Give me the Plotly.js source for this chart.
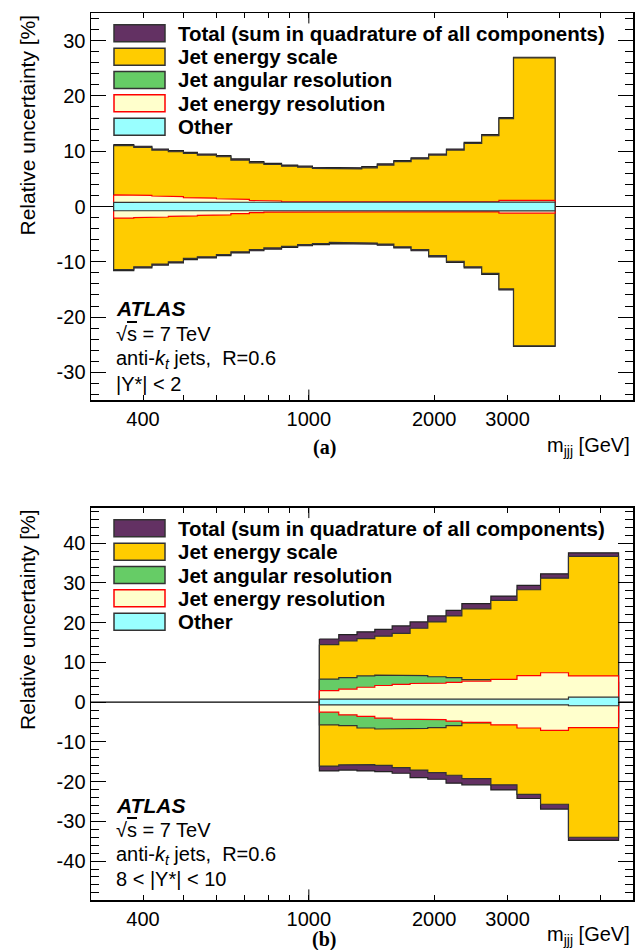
<!DOCTYPE html>
<html>
<head>
<meta charset="utf-8">
<script src="https://cdn.plot.ly/plotly-3.0.1.min.js"></script>
<style>
  html, body { margin: 0; padding: 0; background: #fff; }
  #chart { width: 644px; height: 950px; }
</style>
</head>
<body>
<div id="chart"></div>
<script>
// ---------- DATA ----------
// Panel (a): |Y*| < 2
const edgesA = [340, 380, 420, 460, 500, 540, 600, 650, 720, 780, 860, 940, 1020, 1120, 1220, 1340, 1460, 1600, 1760, 1940, 2140, 2360, 2600, 2860, 3100, 3900];
const totalUpA = [11.2, 10.9, 10.4, 10.1, 9.8, 9.5, 9.2, 8.6, 8.1, 7.8, 7.5, 7.3, 7.1, 7.0, 7.0, 7.2, 7.7, 8.3, 8.8, 9.5, 10.4, 11.6, 13.0, 16.1, 27.0];
const totalLoA = [-11.6, -11.1, -10.6, -10.2, -9.6, -9.3, -8.9, -8.4, -8.0, -7.7, -7.4, -7.1, -6.9, -6.7, -6.7, -6.8, -7.0, -7.5, -8.0, -9.1, -10.1, -11.1, -12.3, -15.1, -25.3];
const jesUpA = [11.0, 10.7, 10.2, 9.9, 9.6, 9.3, 9.0, 8.4, 7.9, 7.6, 7.3, 7.1, 6.9, 6.8, 6.8, 7.0, 7.5, 8.1, 8.6, 9.3, 10.2, 11.4, 12.8, 15.9, 26.9];
const jesLoA = [-11.4, -10.9, -10.4, -10.0, -9.4, -9.1, -8.7, -8.2, -7.8, -7.5, -7.2, -6.9, -6.7, -6.5, -6.5, -6.6, -6.8, -7.3, -7.8, -8.9, -9.9, -10.9, -12.1, -14.9, -25.2];
const jarUpA = [0.5, 0.5, 0.5, 0.5, 0.5, 0.5, 0.5, 0.5, 0.5, 0.5, 0.5, 0.5, 0.5, 0.5, 0.5, 0.5, 0.5, 0.5, 0.5, 0.5, 0.5, 0.5, 0.5, 0.5, 0.5];
const jarLoA = [-0.5, -0.5, -0.5, -0.5, -0.5, -0.5, -0.5, -0.5, -0.5, -0.5, -0.5, -0.5, -0.5, -0.5, -0.5, -0.5, -0.5, -0.5, -0.5, -0.5, -0.5, -0.5, -0.5, -0.5, -0.5];
const jerUpA = [2.1, 2.0, 1.9, 1.8, 1.6, 1.5, 1.4, 1.3, 1.1, 1.0, 0.9, 0.9, 0.85, 0.85, 0.85, 0.85, 0.85, 0.85, 0.85, 0.85, 0.85, 0.85, 0.85, 1.1, 1.1];
const jerLoA = [-2.1, -2.0, -1.9, -1.8, -1.7, -1.6, -1.5, -1.3, -1.1, -1.0, -0.95, -0.95, -0.95, -0.95, -0.95, -0.95, -0.95, -0.95, -0.95, -0.95, -0.95, -0.95, -0.95, -1.2, -1.2];
const otherUpA = [0.75, 0.75, 0.75, 0.75, 0.75, 0.75, 0.75, 0.75, 0.75, 0.75, 0.75, 0.75, 0.75, 0.75, 0.75, 0.75, 0.75, 0.75, 0.75, 0.75, 0.75, 0.75, 0.75, 0.8, 0.8];
const otherLoA = [-0.75, -0.75, -0.75, -0.75, -0.75, -0.75, -0.75, -0.75, -0.75, -0.75, -0.75, -0.75, -0.75, -0.75, -0.75, -0.75, -0.75, -0.75, -0.75, -0.75, -0.75, -0.75, -0.75, -0.8, -0.8];

// Panel (b): 8 < |Y*| < 10
const edgesB = [1060, 1180, 1305, 1440, 1585, 1750, 1930, 2135, 2330, 2735, 3160, 3600, 4200, 5540];
const totalUpB = [15.9, 17.0, 17.7, 18.3, 19.2, 20.2, 21.7, 23.1, 24.8, 26.7, 29.4, 32.3, 37.6];
const totalLoB = [-17.3, -17.1, -17.3, -17.5, -17.9, -19.0, -19.4, -20.4, -20.8, -22.1, -24.25, -26.9, -34.8];
const jesUpB = [14.5, 15.4, 16.0, 16.6, 17.3, 18.6, 20.2, 21.7, 23.5, 25.6, 28.3, 31.2, 36.7];
const jesLoB = [-16.1, -15.8, -15.7, -15.9, -16.5, -17.1, -17.75, -18.4, -19.25, -20.8, -23.2, -25.7, -34.0];
const jarUpB = [5.8, 6.2, 6.6, 6.8, 6.8, 6.7, 6.4, 6.2, 5.7, 5.5, 5.0, 5.0, 5.0];
const jarLoB = [-5.7, -5.9, -6.5, -6.75, -6.75, -6.6, -6.4, -5.9, -5.25, -5.0, -5.0, -5.0, -5.0];
const jerUpB = [2.9, 3.3, 3.75, 4.2, 4.5, 4.7, 4.8, 5.0, 5.3, 5.75, 6.7, 7.4, 6.6];
const jerLoB = [-2.5, -3.2, -3.6, -4.0, -4.25, -4.25, -4.4, -4.75, -5.1, -5.7, -6.5, -7.1, -6.4];
const otherUpB = [0.75, 0.75, 0.75, 0.75, 0.75, 0.75, 0.75, 0.75, 0.75, 0.75, 0.75, 0.75, 1.25];
const otherLoB = [-0.7, -0.7, -0.7, -0.7, -0.7, -0.7, -0.7, -0.7, -0.7, -0.7, -0.7, -0.7, -0.9];

// Legend / axis labels
const legendLabels = ["Total (sum in quadrature of all components)", "Jet energy scale", "Jet angular resolution", "Jet energy resolution", "Other"];
const xTickVals = [400, 1000, 2000, 3000];
const xTickText = ["400", "1000", "2000", "3000"];
const xMinorVals = [300, 500, 600, 700, 800, 900, 4000, 5000];
const xMajorLong = 1000;
const yTickValsA = [-30, -20, -10, 0, 10, 20, 30];
const yTickTextA = ["-30", "-20", "-10", "0", "10", "20", "30"];
const yTickValsB = [-40, -30, -20, -10, 0, 10, 20, 30, 40];
const yTickTextB = ["-40", "-30", "-20", "-10", "0", "10", "20", "30", "40"];

// ---------- STYLE ----------
const fills = ['#633163', '#FFCC00', '#66CC66', '#FFFFCC', '#99FFFF'];
const lines = ['#222222', '#333333', '#333333', '#FF0000', '#333333'];
const FONT = 'Liberation Sans, Arial, Helvetica, sans-serif';

function band(edges, up, lo) {
  const xs = [], ys = [];
  for (let i = 0; i < up.length; i++) { xs.push(edges[i], edges[i + 1]); ys.push(up[i], up[i]); }
  for (let i = lo.length - 1; i >= 0; i--) { xs.push(edges[i + 1], edges[i]); ys.push(lo[i], lo[i]); }
  xs.push(edges[0]); ys.push(up[0]);
  return { xs, ys };
}

const traces = [];
function addPanel(edges, comps, xa, ya) {
  comps.forEach((c, k) => {
    const b = band(edges, c[0], c[1]);
    traces.push({
      x: b.xs, y: b.ys, type: 'scatter', mode: 'lines', fill: 'toself',
      fillcolor: fills[k], line: { color: lines[k], width: 1.2 },
      xaxis: xa, yaxis: ya, hoverinfo: 'skip', showlegend: false
    });
  });
}
addPanel(edgesA, [[totalUpA, totalLoA], [jesUpA, jesLoA], [jarUpA, jarLoA], [jerUpA, jerLoA], [otherUpA, otherLoA]], 'x', 'y');
addPanel(edgesB, [[totalUpB, totalLoB], [jesUpB, jesLoB], [jarUpB, jarLoB], [jerUpB, jerLoB], [otherUpB, otherLoB]], 'x2', 'y2');

// ---------- LAYOUT ----------
const W = 644, H = 950, ML = 91, MR = 11, MT = 13, MB = 50;
const PW = W - ML - MR, PH = H - MT - MB;
const px = v => (v - ML) / PW;
const py = v => (H - MB - v) / PH;

const domA = [py(400), 1];
const domB = [0, py(507.5)];

function xAxis(anchor) {
  return {
    type: 'log', range: [Math.log10(300), Math.log10(6000)], domain: [0, 1], anchor: anchor,
    showline: true, linecolor: 'black', linewidth: 1.5, mirror: 'allticks',
    ticks: 'inside', ticklen: 5, tickwidth: 1, tickcolor: 'black',
    tickmode: 'array', tickvals: xTickVals, ticktext: xTickText,
    tickfont: { family: FONT, size: 20, color: 'black' },
    minor: { tickmode: 'array', tickvals: xMinorVals, ticks: 'inside', ticklen: 5, tickwidth: 1, tickcolor: 'black', showgrid: false },
    showgrid: false, zeroline: false, fixedrange: true
  };
}
function yAxis(anchor, dom, range, tv, tt) {
  return {
    range: range, domain: dom, anchor: anchor,
    showline: true, linecolor: 'black', linewidth: 1.5, mirror: 'allticks',
    ticks: 'inside', ticklen: 15, tickwidth: 1, tickcolor: 'black',
    tickmode: 'array', tickvals: tv, ticktext: tt,
    tickfont: { family: FONT, size: 20, color: 'black' },
    minor: { dtick: 2, ticks: 'inside', ticklen: 8, tickwidth: 1, tickcolor: 'black', showgrid: false },
    showgrid: false, zeroline: false, fixedrange: true
  };
}

const shapes = [];
const annotations = [];

// zero lines and long major tick at 1000
[['x', 'y'], ['x2', 'y2']].forEach(([xa, ya]) => {
  shapes.push({ type: 'line', xref: xa + ' domain', yref: ya, x0: 0, x1: 1, y0: 0, y1: 0, line: { color: 'black', width: 1.2 }, layer: 'below' });
  shapes.push({ type: 'line', xref: xa, yref: ya + ' domain', x0: xMajorLong, x1: xMajorLong, y0: 0, y1: 0.027, line: { color: 'black', width: 1 } });
  shapes.push({ type: 'line', xref: xa, yref: ya + ' domain', x0: xMajorLong, x1: xMajorLong, y0: 1, y1: 0.973, line: { color: 'black', width: 1 } });
});

// legends (manual, ROOT-style boxes)
function legend(rows) {
  rows.forEach((yc, k) => {
    shapes.push({ type: 'rect', xref: 'paper', yref: 'paper', x0: px(114), x1: px(165), y0: py(yc + 8.5), y1: py(yc - 8.5),
      fillcolor: fills[k], line: { color: k === 3 ? '#FF0000' : '#333333', width: 1.5 } });
    annotations.push({ xref: 'paper', yref: 'paper', x: px(176), y: py(yc), xanchor: 'left', yanchor: 'middle',
      text: '<b>' + legendLabels[k] + '</b>', showarrow: false, font: { family: FONT, size: 20.5, color: 'black' } });
  });
}
legend([33.3, 56.7, 80, 103.3, 126.7]);
legend([528.3, 551.7, 575, 598.3, 621.7]);

// ATLAS labels
function atlas(ys, last) {
  const f = { family: FONT, size: 20, color: 'black' };
  annotations.push({ xref: 'paper', yref: 'paper', x: px(114), y: py(ys[0]), xanchor: 'left', yanchor: 'middle', showarrow: false,
    text: '<b><i>ATLAS</i></b>', font: { family: FONT, size: 21, color: 'black' } });
  annotations.push({ xref: 'paper', yref: 'paper', x: px(114), y: py(ys[1]), xanchor: 'left', yanchor: 'middle', showarrow: false,
    text: "√<span style='text-decoration:overline'>s</span> = 7 TeV", font: f });
  annotations.push({ xref: 'paper', yref: 'paper', x: px(114), y: py(ys[2]), xanchor: 'left', yanchor: 'middle', showarrow: false,
    text: 'anti-<i>k</i><sub><i>t</i></sub> jets,  R=0.6', font: f });
  annotations.push({ xref: 'paper', yref: 'paper', x: px(114), y: py(ys[3]), xanchor: 'left', yanchor: 'middle', showarrow: false,
    text: last, font: f });
}
atlas([309, 334, 359, 384], '|Y*| &lt; 2');
atlas([805, 830, 855, 879], '8 &lt; |Y*| &lt; 10');

// axis titles
[[13, 'a', 446, 447], [507.5, 'b', 935, 939]].forEach(([top, lab, xb, lb]) => {
  annotations.push({ xref: 'paper', yref: 'paper', x: px(27), y: py(top), xanchor: 'center', yanchor: 'top', showarrow: false,
    textangle: -90, text: 'Relative uncertainty [%]', font: { family: FONT, size: 21, color: 'black' } });
  annotations.push({ xref: 'paper', yref: 'paper', x: px(632), y: py(xb), xanchor: 'right', yanchor: 'middle', showarrow: false,
    text: 'm<sub>jjj</sub> [GeV]', font: { family: FONT, size: 20, color: 'black' } });
  annotations.push({ xref: 'paper', yref: 'paper', x: px(324), y: py(lb), xanchor: 'center', yanchor: 'middle', showarrow: false,
    text: '<b>(' + lab + ')</b>', font: { family: 'Liberation Serif, Times New Roman, serif', size: 20, color: 'black' } });
});

const layout = {
  width: W, height: H,
  margin: { l: ML, r: MR, t: MT, b: MB, pad: 0 },
  paper_bgcolor: 'white', plot_bgcolor: 'white',
  showlegend: false,
  xaxis: xAxis('y'),
  yaxis: yAxis('x', domA, [-35, 35], yTickValsA, yTickTextA),
  xaxis2: xAxis('y2'),
  yaxis2: yAxis('x2', domB, [-49.8, 49], yTickValsB, yTickTextB),
  shapes: shapes,
  annotations: annotations
};

Plotly.newPlot('chart', traces, layout, { staticPlot: true, displayModeBar: false });
</script>
</body>
</html>
